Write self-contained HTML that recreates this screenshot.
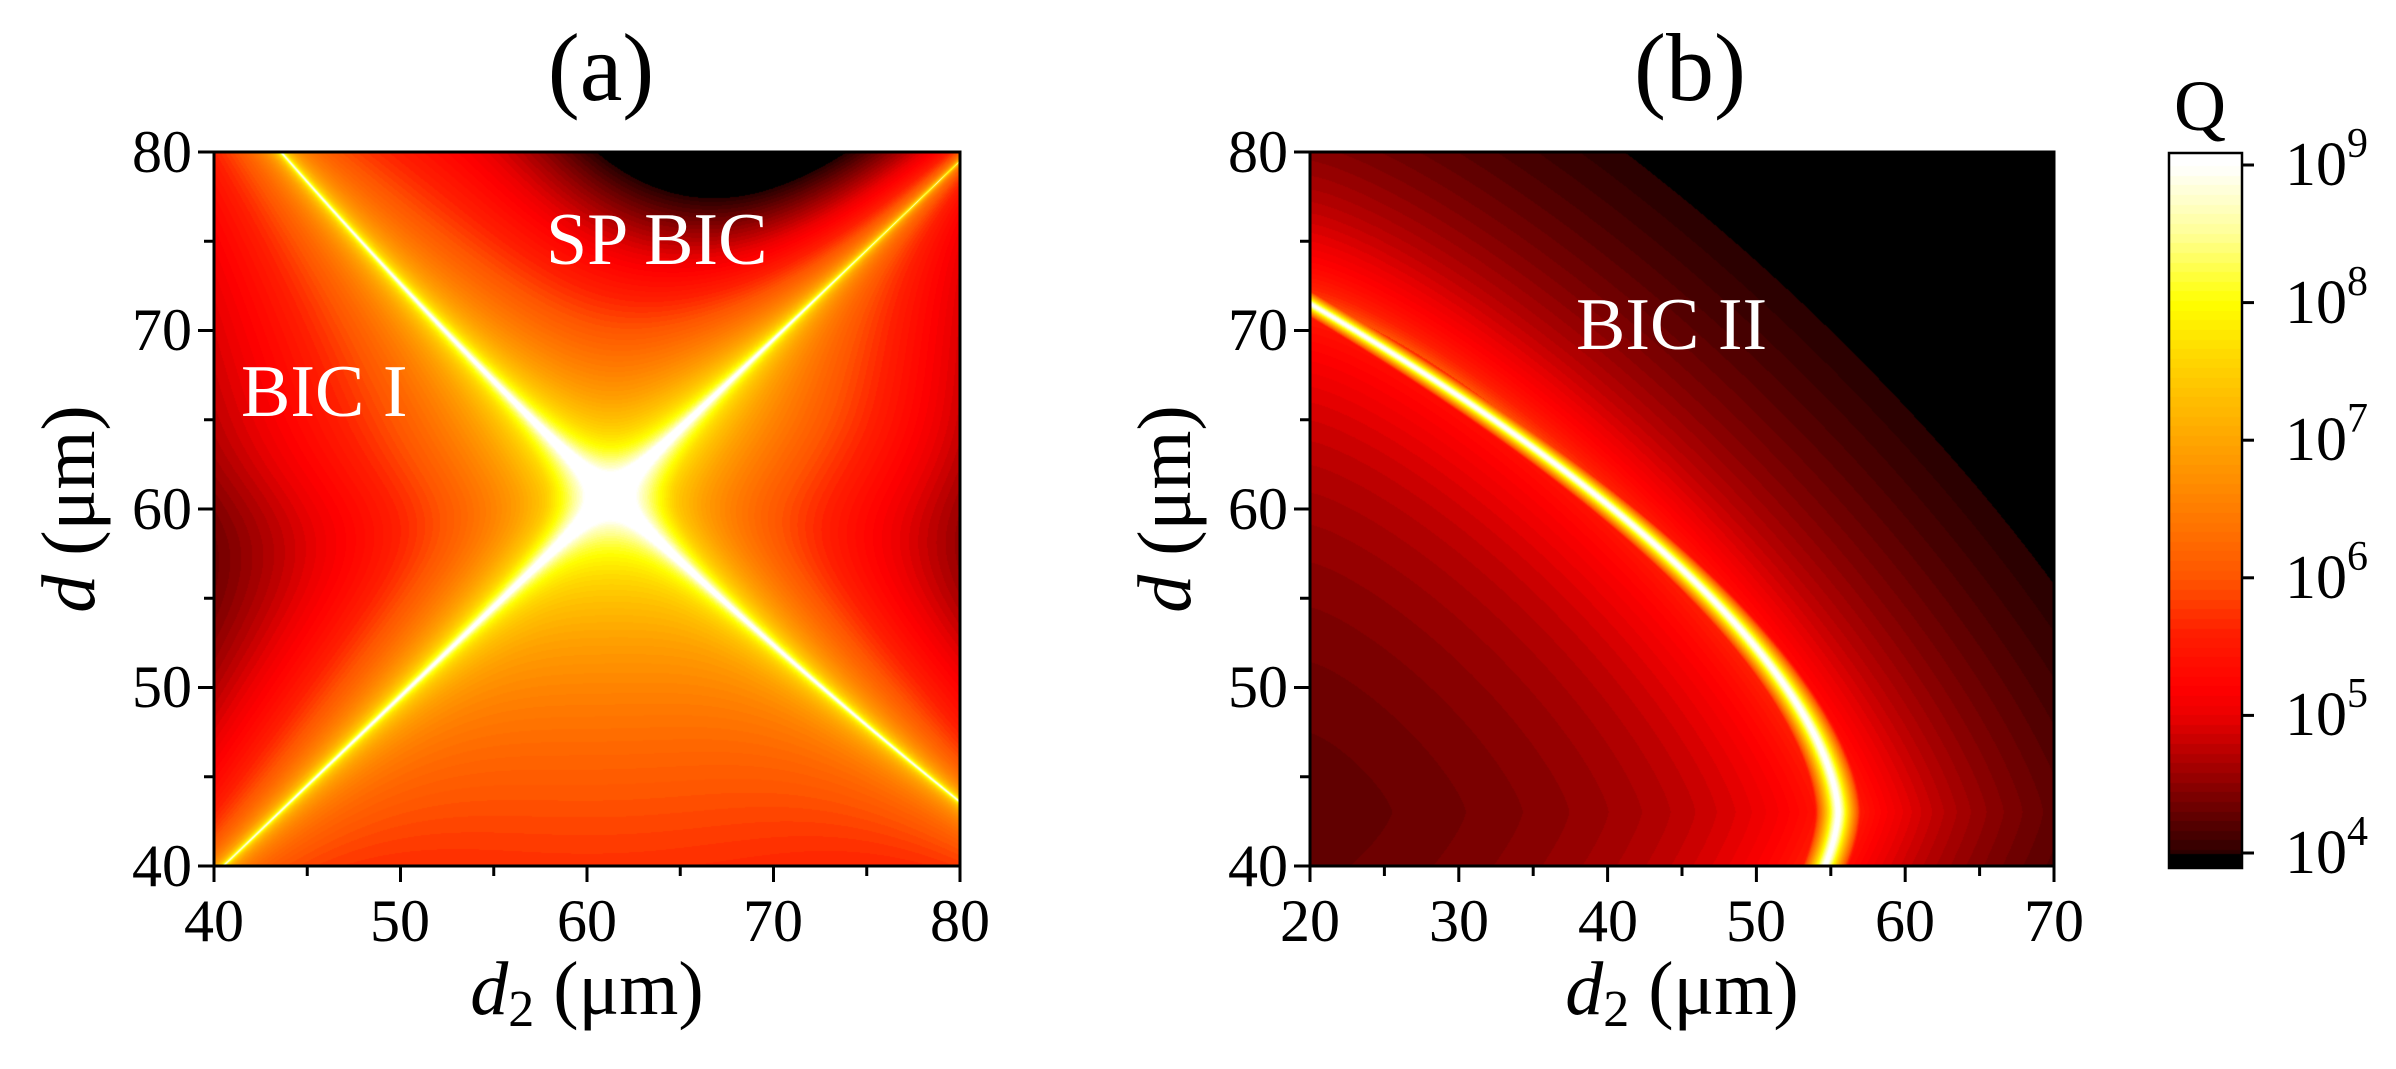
<!DOCTYPE html>
<html><head><meta charset="utf-8">
<style>
html,body{margin:0;padding:0;background:#fff;}
body{width:2396px;height:1069px;position:relative;overflow:hidden;font-family:"Liberation Serif",serif;}
canvas{position:absolute;}
svg{position:absolute;left:0;top:0;}
</style></head><body>
<canvas id="ca" width="746" height="714" style="left:214px;top:152px"></canvas>
<canvas id="cb" width="744" height="714" style="left:1310px;top:152px"></canvas>
<canvas id="cc" width="73" height="715" style="left:2169px;top:153px"></canvas>
<svg width="2396" height="1069" xmlns="http://www.w3.org/2000/svg" font-family="Liberation Serif, serif">
<g stroke="#000" stroke-width="3" fill="none">
<rect x="214" y="152" width="746" height="714"/>
<rect x="1310" y="152" width="744" height="714"/>
<rect x="2169" y="153" width="73" height="715" stroke-width="2.5"/>
</g>
<g id="ticks" stroke="#000" stroke-width="3"></g>
<g font-size="60" fill="#000">
<g text-anchor="end">
<text x="192" y="172">80</text><text x="192" y="350">70</text><text x="192" y="529">60</text><text x="192" y="707">50</text><text x="192" y="886">40</text>
<text x="1288" y="172">80</text><text x="1288" y="350">70</text><text x="1288" y="529">60</text><text x="1288" y="707">50</text><text x="1288" y="886">40</text>
</g>
<g text-anchor="middle">
<text x="214" y="941">40</text><text x="400" y="941">50</text><text x="587" y="941">60</text><text x="773" y="941">70</text><text x="960" y="941">80</text>
<text x="1310" y="941">20</text><text x="1459" y="941">30</text><text x="1608" y="941">40</text><text x="1756" y="941">50</text><text x="1905" y="941">60</text><text x="2054" y="941">70</text>
</g>
</g>
<g font-size="96" text-anchor="middle" fill="#000">
<text x="601" y="100">(a)</text><text x="1690" y="100">(b)</text>
</g>
<text x="2200" y="130" font-size="72" text-anchor="middle">Q</text>
<g font-size="76" text-anchor="middle">
<text x="587" y="1014"><tspan font-style="italic">d</tspan><tspan font-size="52" dy="12">2</tspan><tspan dy="-12"> (μm)</tspan></text>
<text x="1682" y="1014"><tspan font-style="italic">d</tspan><tspan font-size="52" dy="12">2</tspan><tspan dy="-12"> (μm)</tspan></text>
<text transform="translate(94,509) rotate(-90)"><tspan font-style="italic">d</tspan> (μm)</text>
<text transform="translate(1190,509) rotate(-90)"><tspan font-style="italic">d</tspan> (μm)</text>
</g>
<g font-size="74" fill="#fff">
<text x="546" y="264">SP BIC</text>
<text x="241" y="416">BIC I</text>
<text x="1576" y="349">BIC II</text>
</g>
<g font-size="62" fill="#000">
<text x="2285" y="185">10<tspan font-size="42" dy="-28">9</tspan></text>
<text x="2285" y="323">10<tspan font-size="42" dy="-28">8</tspan></text>
<text x="2285" y="460">10<tspan font-size="42" dy="-28">7</tspan></text>
<text x="2285" y="598">10<tspan font-size="42" dy="-28">6</tspan></text>
<text x="2285" y="735">10<tspan font-size="42" dy="-28">5</tspan></text>
<text x="2285" y="873">10<tspan font-size="42" dy="-28">4</tspan></text>
</g>
</svg>
<script>
var stops=[[3.93,0,0,0],[3.97,40,0,0],[4.5,140,0,0],[5.0,235,0,0],[5.2,255,0,0],[5.6,255,30,0],[6.0,255,85,0],[7.0,255,165,0],[7.6,255,215,0],[8.0,255,255,0],[8.5,255,255,150],[9.0,255,255,255]];
function cmap(L){
 L=Math.round(L/0.07)*0.07;
 if(L<=stops[0][0])return[0,0,0];
 for(var i=1;i<stops.length;i++){if(L<=stops[i][0]){var a=stops[i-1],b=stops[i],t=(L-a[0])/(b[0]-a[0]);return[a[1]+t*(b[1]-a[1]),a[2]+t*(b[2]-a[2]),a[3]+t*(b[3]-a[3])];}}
 return[255,255,255];
}
function draw(id,f){
 var c=document.getElementById(id),x=c.getContext('2d'),W=c.width,H=c.height,im=x.createImageData(W,H),d=im.data;
 for(var j=0;j<H;j++)for(var i=0;i<W;i++){var col=cmap(f(i/(W-1),j/(H-1)));var k=(j*W+i)*4;d[k]=col[0];d[k+1]=col[1];d[k+2]=col[2];d[k+3]=255;}
 x.putImageData(im,0,0);
}
draw('ca',function(px,py){
 var d2=40+40*px,d=80-40*py;
 var u=(d-d2+0.5)/1.414,v=(d+d2-122-0.0012*Math.pow(d-d2,2))/1.414;
 var P=Math.abs(u*v);
 var L=9.0-1.5*Math.log10(P+0.06);
 var dx=d2-61.3,dy=d-60.7;
 var lob=(dy*dy-dx*dx)/(dx*dx+dy*dy+4);
 var coef=-0.05-0.3*Math.tanh(dy/4);
 L+=coef*lob;
 if(lob<0)L+=0.5*lob*Math.min(1,P/6);
 var T=2.3*Math.exp(-Math.pow((d2-68)/10,2))*Math.pow(Math.max(0,(d-64)/16),2);
 L-=T;
 L-=0.45*Math.pow(dx/20,2);
 if(d2>70)L-=0.5*Math.pow((d2-70)/10,2)*Math.max(0,(d-50)/30);
 return Math.min(L,9.2);
});
draw('cb',function(px,py){
 var d2=20+50*px,d=80-40*py;
 var xx=Math.abs((d2-20)/35.5),yy=Math.abs((d-43)/28.5);
 var F=Math.pow(xx,1.3)+Math.pow(yy,1.3)-1;
 var base;
 if(F>0)base=3.93-1.6*Math.log10(F+0.05);
 else base=4.3-1.3*Math.log10(-F+0.08);
 var c=55.5-35.5*Math.pow(yy,1.65);
 var s=d2-c;
 var peak=9.3-Math.abs(s)*2.5;
 return Math.min(Math.max(base,peak),9.2);
});
(function(){
 var c=document.getElementById('cc'),x=c.getContext('2d');
 for(var j=0;j<c.height;j++){var L=9+(165-153-j)/137.6*1;var col=cmap(L);if(j>700)col=[0,0,0];x.fillStyle='rgb('+col.map(Math.round).join(',')+')';x.fillRect(0,j,c.width,1);}
})();
(function(){
 var g=document.getElementById('ticks'),s='';
 function ln(a,b,c,d){s+='<line x1="'+a+'" y1="'+b+'" x2="'+c+'" y2="'+d+'"/>';}
 [[214,960,40],[1310,2054,50]].forEach(function(p){
  var n=p[2]/5;
  for(var i=0;i<=n;i++){var X=p[0]+(p[1]-p[0])*i/n;ln(X,866,X,866+(i%2==0?16:10));}
 });
 [214,1310].forEach(function(X){
  for(var i=0;i<=8;i++){var Y=152+714*i/8;ln(X,Y,X-(i%2==0?16:10),Y);}
 });
 for(var i=0;i<=5;i++){var Y=165+137.6*i;ln(2242,Y,2254,Y);}
 g.innerHTML=s;
})();
</script>
</body></html>
